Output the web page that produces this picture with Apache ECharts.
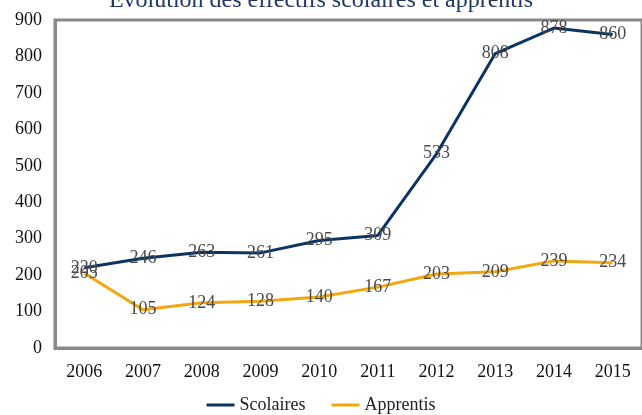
<!DOCTYPE html>
<html><head><meta charset="utf-8">
<script src="https://cdn.jsdelivr.net/npm/echarts@6/dist/echarts.min.js"></script>
<style>html,body{margin:0;padding:0;background:#fff}#c{width:642px;height:415px}</style>
</head><body><div id="c"></div>
<script>
const years = ['2006','2007','2008','2009','2010','2011','2012','2013','2014','2015'];
const scolaires = [220, 246, 263, 261, 295, 309, 533, 808, 878, 860];
const apprentis = [205, 105, 124, 128, 140, 167, 203, 209, 239, 234];
const titleText = 'Évolution des effectifs scolaires et apprentis';
const font = 'Liberation Serif';
const chart = echarts.init(document.getElementById('c'));
const lbl = {show: true, position: 'inside', color: '#4a4a4a', fontFamily: font, fontSize: 18};
chart.setOption({
  animation: false,
  title: {text: titleText, left: 'center', top: -16, textStyle: {fontFamily: font, fontSize: 24, fontWeight: 'normal', color: '#1F3864'}},
  grid: {left: 55, top: 20, width: 589, height: 328, show: true, borderColor: '#888', borderWidth: 3, containLabel: false},
  legend: {bottom: -4, left: 'center', itemWidth: 28, itemHeight: 3, itemGap: 26, icon: 'rect',
    textStyle: {fontFamily: font, fontSize: 18, color: '#222'}, data: ['Scolaires', 'Apprentis']},
  xAxis: {type: 'category', data: years, boundaryGap: true,
    axisLine: {show: true, lineStyle: {color: '#888', width: 3}}, axisTick: {show: false},
    axisLabel: {fontFamily: font, fontSize: 18, color: '#111', margin: 15}},
  yAxis: {type: 'value', min: 0, max: 900, interval: 100,
    axisLine: {show: true, lineStyle: {color: '#888', width: 3}}, axisTick: {show: false}, splitLine: {show: false},
    axisLabel: {fontFamily: font, fontSize: 18, color: '#111', margin: 13}},
  series: [
    {name: 'Scolaires', type: 'line', data: scolaires, symbol: 'circle', symbolSize: 0, showSymbol: true, lineStyle: {color: '#0B3461', width: 3}, itemStyle: {color: '#0B3461'}, label: lbl},
    {name: 'Apprentis', type: 'line', data: apprentis, symbol: 'circle', symbolSize: 0, showSymbol: true, lineStyle: {color: '#F2A70F', width: 3}, itemStyle: {color: '#F2A70F'}, label: lbl}
  ]
});
</script></body></html>
